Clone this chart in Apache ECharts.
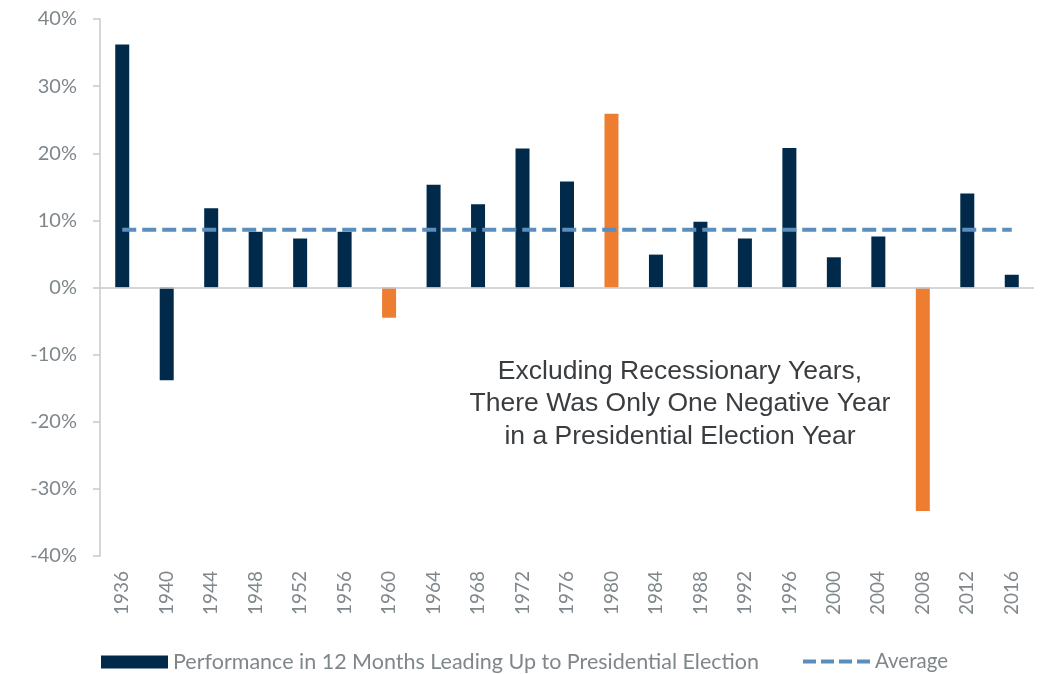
<!DOCTYPE html>
<html><head><meta charset="utf-8">
<script src="https://cdn.jsdelivr.net/npm/echarts@6/dist/echarts.min.js"></script>
<style>html,body{margin:0;padding:0;background:#fff}#c{width:1046px;height:674px}</style>
</head><body><div id="c"></div>
<script>
const years = ['1936','1940','1944','1948','1952','1956','1960','1964','1968','1972','1976','1980','1984','1988','1992','1996','2000','2004','2008','2012','2016'];
const performance = [36.2,-13.8,11.8,8.3,7.3,8.3,-4.5,15.3,12.4,20.7,15.8,25.9,4.9,9.8,7.3,20.8,4.5,7.6,-33.3,14.0,1.9];
const recessionYears = ['1960','1980','2008'];
const averageValue = 8.6;
const averageLine = years.map(() => averageValue);
const yTicks = { min: -40, max: 40, interval: 10 };

const NAVY = '#012a4a', ORANGE = '#ed7d31', AVG = '#5b8dbf', GRAY = '#7f878b';
const chart = echarts.init(document.getElementById('c'), null, {renderer:'canvas'});
const font = 'Lato, "Source Sans Pro", "Open Sans", sans-serif';
chart.setOption({
  animation: false,
  grid: { left: 100, right: 12, top: 19, bottom: 118, containLabel: false },
  legend: [
    { data: [{ name: 'Performance in 12 Months Leading Up to Presidential Election', icon: 'rect' }], left: 96, top: 646,
      itemWidth: 67, itemHeight: 13, itemGap: 8, textStyle: { color: GRAY, fontSize: 21.5, fontFamily: font } },
    { data: ['Average'], left: 796, top: 646, itemWidth: 67, itemHeight: 13, itemGap: 5,
      itemStyle: { opacity: 0 },
      lineStyle: { color: AVG, width: 4, type: [13, 5] },
      textStyle: { color: GRAY, fontSize: 20.5, fontFamily: font } }
  ],
  xAxis: {
    type: 'category', data: years,
    axisLine: { show: false }, axisTick: { show: false },
    axisLabel: { rotate: 90, color: GRAY, fontSize: 19, fontFamily: font, margin: 15 }
  },
  yAxis: {
    type: 'value', min: yTicks.min, max: yTicks.max, interval: yTicks.interval,
    axisLine: { show: true, lineStyle: { color: '#c9c9c9', width: 1.5 } },
    axisTick: { show: true, length: 7, lineStyle: { color: '#c9c9c9', width: 1.5 } },
    splitLine: { show: false },
    axisLabel: { formatter: '{value}%', color: GRAY, fontSize: 20, fontFamily: font, margin: 23 }
  },
  series: [
    { name: 'Performance in 12 Months Leading Up to Presidential Election', type: 'bar', barWidth: 14,
      itemStyle: { color: NAVY },
      data: performance.map((v, i) => ({ value: v, itemStyle: { color: recessionYears.includes(years[i]) ? ORANGE : NAVY } })),
      markLine: { silent: true, symbol: 'none', label: { show: false },
        lineStyle: { color: '#c9c9c9', width: 1.5, type: 'solid' }, data: [{ yAxis: 0 }] },
      z: 2 },
    { name: 'Average', type: 'line', data: averageLine, symbol: 'none', z: 3,
      lineStyle: { color: AVG, width: 4, type: [14, 6] }, itemStyle: { color: AVG } }
  ],
  graphic: [{
    type: 'text', x: 680, y: 355,
    style: { text: 'Excluding Recessionary Years,\nThere Was Only One Negative Year\nin a Presidential Election Year',
      align: 'center', verticalAlign: 'top', fill: '#3a3d40', fontSize: 26.5, lineHeight: 32.5,
      fontFamily: 'Liberation Sans, Arial, sans-serif' }
  }]
});
</script></body></html>
